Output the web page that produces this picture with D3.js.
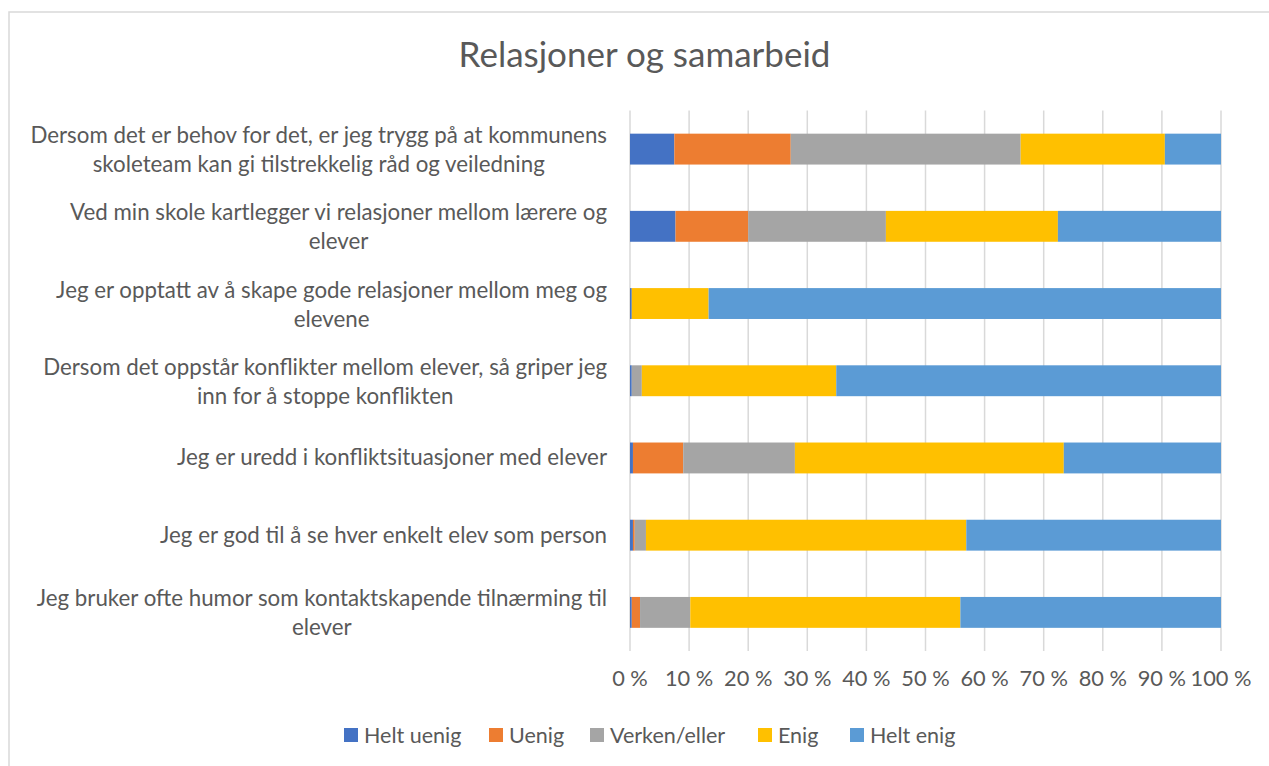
<!DOCTYPE html>
<html>
<head>
<meta charset="utf-8">
<script src="https://cdn.jsdelivr.net/npm/d3@7"></script>
<style>
  body { margin: 0; background: #fff; }
  text { font-family: Lato, "Open Sans", sans-serif; fill: #595959; }
</style>
</head>
<body>
<svg id="chart" width="1269" height="766"></svg>
<script>
// questions, top to bottom, already split into the lines shown
const questions = [
  ["Dersom det er behov for det, er jeg trygg på at kommunens", "skoleteam kan gi tilstrekkelig råd og veiledning"],
  ["Ved min skole kartlegger vi relasjoner mellom lærere og", "elever"],
  ["Jeg er opptatt av å skape gode relasjoner mellom meg og", "elevene"],
  ["Dersom det oppstår konflikter mellom elever, så griper jeg", "inn for å stoppe konflikten"],
  ["Jeg er uredd i konfliktsituasjoner med elever"],
  ["Jeg er god til å se hver enkelt elev som person"],
  ["Jeg bruker ofte humor som kontaktskapende tilnærming til", "elever"]
];
const answers = ["Helt uenig", "Uenig", "Verken/eller", "Enig", "Helt enig"];
const colors = ["#4472C4", "#ED7D31", "#A5A5A5", "#FFC000", "#5B9BD5"];

// share (%) per answer, one array per answer, in question order
const heltUenig = [7.5, 7.7, 0.3, 0.3, 0.5, 0.5, 0.3];
const uenig     = [19.7, 12.3, 0, 0, 8.5, 0.3, 1.4];
const verken    = [38.9, 23.3, 0, 1.7, 18.9, 1.9, 8.5];
const enig      = [24.4, 29.1, 13.0, 32.9, 45.5, 54.2, 45.7];
const heltEnig  = [9.5, 27.6, 86.7, 65.1, 26.6, 43.1, 44.1];
const xTicks = [0, 10, 20, 30, 40, 50, 60, 70, 80, 90, 100];

const series = [heltUenig, uenig, verken, enig, heltEnig];

let svg = d3.select("#chart");

// outer frame (only top and left visible in the crop)
svg.append("rect")
  .attr("x", 9).attr("y", 12)
  .attr("width", 1300).attr("height", 800)
  .attr("fill", "none").attr("stroke", "#d9d9d9").attr("stroke-width", 1.5);

let plot = {left: 630, right: 1221, top: 110.5, bottom: 651};

let x = d3.scaleLinear().domain([0, 100]).range([plot.left, plot.right]);
let y = d3.scaleBand().domain(d3.range(questions.length))
  .range([plot.top, plot.bottom]).paddingInner(0.6).paddingOuter(0.3);

// gridlines
svg.append("g").selectAll("line")
  .data(xTicks).enter().append("line")
  .attr("x1", d => x(d)).attr("x2", d => x(d))
  .attr("y1", plot.top).attr("y2", plot.bottom)
  .attr("stroke", "#d9d9d9").attr("stroke-width", 1.5);

// stack the rows
let rows = questions.map((q, i) => {
  let r = {idx: i};
  answers.forEach((a, j) => r[a] = series[j][i]);
  return r;
});
let stacked = d3.stack().keys(answers)(rows);

svg.append("g").selectAll("g")
  .data(stacked).enter().append("g")
  .attr("fill", (d, i) => colors[i])
  .selectAll("rect")
  .data(d => d).enter().append("rect")
  .attr("x", d => x(d[0]))
  .attr("width", d => Math.max(0, x(d[1]) - x(d[0])))
  .attr("y", d => y(d.data.idx))
  .attr("height", y.bandwidth());

// x axis tick labels
svg.append("g").selectAll("text")
  .data(xTicks).enter().append("text")
  .attr("x", d => x(d))
  .attr("y", 686)
  .attr("text-anchor", "middle")
  .attr("font-size", 21.8)
  .text(d => d + " %");

// category labels: block right-aligned, lines centred within the block
const labelRight = 607;
questions.forEach((lines, i) => {
  let g = svg.append("g");
  let cy = y(i) + y.bandwidth() / 2;
  let texts = lines.map((line, k) => g.append("text")
    .attr("font-size", 22.3)
    .attr("text-anchor", "middle")
    .attr("y", lines.length === 1 ? cy + 7.5 : cy - 6 + k * 29)
    .text(line));
  let maxW = d3.max(texts, t => t.node().getComputedTextLength());
  texts.forEach(t => t.attr("x", labelRight - maxW / 2));
});

// title
svg.append("text")
  .attr("x", 644.5).attr("y", 67)
  .attr("text-anchor", "middle")
  .attr("font-size", 35)
  .text("Relasjoner og samarbeid");

// legend
let legendX = [344, 489, 590, 758, 850];
let legend = svg.append("g").selectAll("g")
  .data(answers).enter().append("g")
  .attr("transform", (d, i) => `translate(${legendX[i]}, 728)`);
legend.append("rect")
  .attr("width", 14).attr("height", 14)
  .attr("fill", (d, i) => colors[i]);
legend.append("text")
  .attr("x", 20).attr("y", 15)
  .attr("font-size", 21.5)
  .text(d => d);
</script>
</body>
</html>
